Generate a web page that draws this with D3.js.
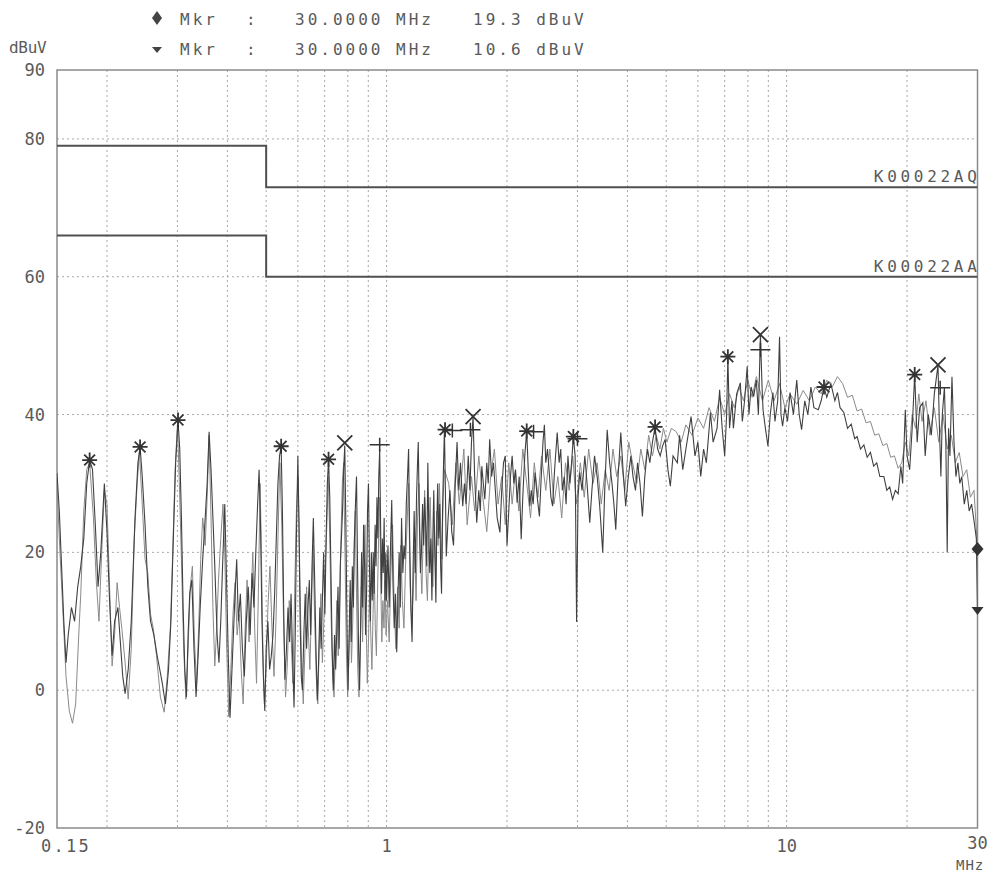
<!DOCTYPE html>
<html>
<head>
<meta charset="UTF-8">
<title>Conducted emission scan</title>
<style>
  * { margin: 0; padding: 0; }
  body { background: #fff; overflow: hidden; }
  text { font-family: "DejaVu Sans Mono", monospace; fill: #5a5a5a; }
</style>
<script src="https://d3js.org/d3.v7.min.js"></script>
</head>
<body>
<script>
// marker readouts above the plot
const readoutFreqs = ["30.0000 MHz", "30.0000 MHz"];
const readoutLevels = ["19.3 dBuV", "10.6 dBuV"];

// axes
const levelTicks = [-20, 0, 20, 40, 60, 80, 90];
const levelGrid = [0, 20, 40, 60, 80];
const freqGrid = [0.2, 0.3, 0.4, 0.5, 0.6, 0.7, 0.8, 0.9, 1, 2, 3, 4, 5, 6, 7, 8, 9, 10, 20];
const freqTicks = [0.15, 1, 10, 30];
const freqTickLabels = ["0.15", "1", "10", "30"];

// limit lines (MHz, dBuV)
const limitQP = [[0.15, 79], [0.5, 79], [0.5, 73], [30, 73]];
const limitAV = [[0.15, 66], [0.5, 66], [0.5, 60], [30, 60]];
const limitNames = ["K00022AQ", "K00022AA"];

// darker trace (MHz, dBuV)
const traceA = [
  [0.150,31.5],[0.152,26],[0.154,18],[0.156,10],[0.158,4],[0.160,8],[0.163,12],[0.166,10],[0.169,15],[0.172,18],
  [0.175,22],[0.178,30],[0.181,33.4],[0.184,32],[0.187,24],[0.190,15],[0.193,20],[0.197,30],[0.200,23],[0.203,13],
  [0.206,5],[0.209,10],[0.213,12],[0.216,7],[0.219,2],[0.222,-0.5],[0.226,3],[0.230,10],[0.235,25],[0.239,33],
  [0.242,35.3],[0.245,31],[0.249,24],[0.253,15],[0.257,10],[0.262,8],[0.267,5],[0.271,3],[0.275,1],[0.280,-2],
  [0.285,3],[0.289,10],[0.293,22],[0.297,33],[0.301,39.2],[0.304,35],[0.307,25],[0.310,12],[0.313,3],[0.316,-1],
  [0.319,8],[0.322,14],[0.326,16],[0.330,6],[0.334,-1],[0.338,5],[0.342,12],[0.347,19],[0.352,25],[0.356,30],
  [0.360,37.5],[0.364,32],[0.368,25],[0.372,18],[0.377,8],[0.381,4],[0.385,10],[0.389,18],[0.394,27],[0.398,16],
  [0.402,5],[0.406,-4],[0.410,2],[0.414,8],[0.418,14],[0.422,19],[0.426,10],[0.431,14],[0.436,6],[0.441,2],
  [0.446,10],[0.451,15],[0.456,8],[0.461,17],[0.466,12],[0.471,20],[0.476,27],[0.480,32],[0.484,24],[0.488,10],
  [0.492,2],[0.496,-3],[0.500,6],
  [0.505,10],[0.510,3],[0.515,5],[0.520,8],[0.525,14],[0.530,22],[0.535,30],[0.540,34],[0.545,35.4],[0.549,26],
  [0.553,12],[0.557,1.5],[0.562,6],[0.567,12],[0.572,7],[0.577,14],[0.582,5],[0.587,-2.5],[0.591,8],[0.595,22],
  [0.600,34],[0.604,24],[0.608,10],[0.612,2],[0.616,0],[0.621,8],[0.626,14],[0.631,6],[0.636,12],[0.641,16],
  [0.646,8],[0.651,18],[0.656,25],[0.661,16],[0.666,6],[0.671,-1.5],[0.676,4],[0.681,12],[0.686,6],[0.691,13],
  [0.696,20],[0.701,11],[0.706,22],[0.711,30],[0.716,33.5],[0.721,28],[0.726,17],[0.731,6],[0.736,0],[0.741,8],
  [0.746,3],[0.751,9],[0.756,15],[0.761,6],[0.766,18],[0.771,22],[0.776,26],[0.781,32],[0.786,35.5],[0.791,24],
  [0.796,10],[0.801,0],[0.806,8],[0.811,16],[0.816,7],[0.821,18],[0.826,12],[0.831,22],[0.836,27],[0.841,31],
  [0.846,18],[0.851,6],[0.856,0],[0.861,9],[0.866,20],[0.871,12],[0.876,24],[0.881,18],[0.886,8],[0.891,14],
  [0.896,26],[0.901,30],[0.906,18],[0.911,10],[0.916,20],[0.921,13],[0.926,20],[0.931,14],[0.936,24],[0.941,18],
  [0.946,28],[0.951,22],[0.956,31],[0.961,35],[0.966,24],[0.971,14],[0.976,22],[0.981,17],[0.986,25],[0.991,13],
  [0.996,20],
  [1.000,13],[1.008,21],[1.015,12],[1.022,20],[1.030,27.6],[1.037,16],[1.045,9],[1.052,14],[1.060,5.5],[1.068,14],
  [1.075,20],[1.082,12],[1.090,25],[1.098,17],[1.105,21],[1.112,19],[1.120,27],[1.128,31],[1.135,35],[1.142,22],
  [1.150,12],[1.158,7],[1.165,18],[1.172,26],[1.180,17],[1.188,28],[1.195,33],[1.200,36],[1.208,24],[1.215,17],
  [1.222,20],[1.230,27],[1.238,21],[1.245,28],[1.252,24],[1.260,18],[1.268,33],[1.275,23],[1.282,17],[1.290,22],
  [1.298,13],[1.305,22],[1.312,29],[1.320,20],[1.328,12.7],[1.335,24],[1.342,30],[1.350,22],[1.358,27],[1.365,18],
  [1.372,14],[1.380,26],[1.388,33],[1.395,37.8],
  [1.402,30],[1.41,19.4],[1.425,25],[1.44,29],[1.455,23],[1.47,21],[1.485,30],[1.50,36],[1.515,29],[1.53,33],
  [1.55,26.7],[1.565,30],[1.58,27],[1.60,34],[1.615,29],[1.63,36],[1.645,39.7],[1.66,31],[1.68,24.3],[1.70,29],
  [1.715,26],[1.73,32.5],[1.745,30],[1.76,27.7],[1.78,33],[1.795,30],[1.81,36.4],[1.83,31],[1.85,33],[1.87,29],
  [1.89,25],[1.92,22.9],[1.94,29],[1.96,33],[1.98,34],[1.99,27],[2.00,21],[2.02,26],[2.04,31],[2.06,34],
  [2.08,30],[2.10,32],[2.12,27.2],[2.145,31],[2.17,21.9],[2.19,28],[2.215,34],[2.24,37.6],[2.26,32],[2.28,26.7],
  [2.30,29],[2.325,27],[2.35,31.6],[2.38,28],[2.41,25.2],[2.44,32],[2.46,36],[2.48,38.5],[2.50,33],[2.525,35],
  [2.55,31.6],[2.575,28],[2.60,26.7],[2.63,32],[2.67,37.4],[2.70,33],[2.725,35],[2.75,29],[2.78,31],[2.81,27],
  [2.84,34],[2.87,30],[2.90,33],[2.93,36.8],[2.96,34],[2.985,9.9],[3.01,28],[3.04,31.6],[3.08,29],[3.13,34],
  [3.17,30],[3.22,24.3],[3.26,29],[3.31,34],[3.36,31],[3.41,26.7],[3.47,20],[3.51,29],[3.56,37.8],[3.61,33],
  [3.66,30],[3.70,27],[3.74,23.3],[3.79,31],[3.85,37.4],[3.90,32],[3.96,26.7],[4.02,31],[4.08,34],[4.13,31],
  [4.19,29],[4.24,33],[4.30,30],[4.36,25.2],[4.42,31],[4.49,35],[4.55,33],[4.62,36],[4.69,38.2],[4.76,35],
  [4.83,34],[4.90,35.5],[4.97,36.4],[5.05,32],[5.12,29.6],
  [5.2,34],[5.33,33],[5.4,37],[5.5,32],[5.6,35],[5.77,39.7],[5.9,34],[6.0,36],[6.1,31],[6.2,35],
  [6.3,33],[6.45,40.3],[6.55,36],[6.7,38],[6.8,43.6],[6.9,38],[7.0,34],[7.08,40],[7.13,48.4],[7.2,38],
  [7.3,42],[7.36,38],[7.5,43],[7.66,44.6],[7.75,39],[7.85,42],[7.97,47],[8.05,40],[8.15,44],[8.27,42.6],
  [8.4,45],[8.5,40],[8.6,51.6],[8.68,44],[8.73,40.7],[8.85,38],[8.98,35.4],[9.1,40],[9.24,43.2],[9.35,39],
  [9.5,42],[9.6,51.3],[9.68,40],[9.77,38.3],[9.9,41],[10.05,39],[10.2,43.2],[10.4,40],[10.6,45],[10.75,40],
  [10.9,37.8],[11.1,42],[11.3,40],[11.5,44],[11.7,41],[12.0,40.7],[12.2,42],[12.4,44],[12.6,42.5],[12.9,44.5],
  [13.2,42],[13.4,43.2],[13.6,41],[13.9,40.3],[14.2,38],[14.5,38.6],[14.8,36.5],[15.0,36.8],[15.3,35],[15.6,35.6],
  [15.9,33.8],[16.2,34.5],[16.5,32.5],[16.8,33],[17.1,31],[17.5,31],[17.8,29],[18.1,29.5],[18.4,27.7],[18.7,29],
  [19.0,28.5],[19.3,32.5],[19.5,30],[19.8,40.7],[20.0,34],[20.3,32],[20.6,38],[20.9,45.8],[21.2,36],[21.5,41],
  [21.9,41.7],[22.2,34],[22.6,40],[23.0,37],[23.4,43],[23.9,47.2],[24.1,38],[24.3,31],[24.5,40],[24.8,44],
  [25.0,36],[25.2,20],[25.4,38],[25.6,34],[25.9,45.5],[26.2,36],[26.5,31],[26.8,33],[27.1,30],[27.4,31],
  [27.8,27],[28.2,29],[28.6,26],[29.0,27],[29.5,24],[29.8,22],[30.0,11.5]
];

// lighter trace (MHz, dBuV)
const traceB = [
  [0.150,30],[0.152,22],[0.155,12],[0.158,2],[0.161,-3],[0.164,-4.8],[0.167,-2],[0.170,8],[0.172,14],[0.175,26],
  [0.178,32],[0.181,33],[0.185,25],[0.188,16],[0.191,10],[0.194,20],[0.197,29],[0.200,27],[0.203,15],[0.206,3.5],
  [0.209,8],[0.212,15.6],[0.215,12],[0.218,8.8],[0.222,4],[0.226,-1.3],[0.230,6],[0.234,22],[0.238,30],[0.241,34.5],
  [0.245,27],[0.249,19],[0.253,17],[0.257,11],[0.261,9],[0.266,5],[0.272,-1],[0.278,-3.2],[0.283,2],[0.288,9],
  [0.292,20],[0.296,32],[0.300,38.5],[0.303,31],[0.307,19],[0.311,6],[0.315,-1.3],[0.319,6],[0.323,15],[0.327,18],
  [0.331,7],[0.335,1],[0.339,9],[0.343,19],[0.347,25],[0.352,21],[0.356,28],[0.360,37],[0.364,25],[0.368,12],
  [0.372,3.5],[0.376,9],[0.380,16],[0.385,22],[0.390,27],[0.394,20],[0.398,7],[0.403,-3.8],[0.408,3],[0.413,11],
  [0.418,15.6],[0.423,8],[0.428,11],[0.433,3],[0.438,-2],[0.443,9],[0.448,16],[0.453,7],[0.458,13],[0.463,20],
  [0.468,9],[0.473,1],[0.478,14],[0.483,30],[0.487,18],[0.491,5],[0.495,-2],[0.500,3],
  [0.505,12],[0.511,18],[0.517,9],[0.523,2],[0.529,10],[0.535,22],[0.541,33],[0.547,24],[0.553,9],[0.559,-1],
  [0.565,4],[0.571,13],[0.577,8],[0.583,1],[0.589,14],[0.595,26],[0.601,31],[0.607,16],[0.613,4],[0.619,-2],
  [0.625,6],[0.631,15],[0.637,9],[0.643,3],[0.649,12],[0.655,21],[0.661,10],[0.667,2],[0.673,-2],[0.679,7],
  [0.685,14],[0.691,4],[0.697,10],[0.703,18],[0.709,24],[0.715,31],[0.721,22],[0.727,10],[0.733,2],[0.739,-1],
  [0.745,6],[0.751,13],[0.757,5],[0.763,12],[0.769,22],[0.775,30],[0.781,33],[0.787,20],[0.793,6],[0.799,-1],
  [0.805,5],[0.811,13],[0.817,4],[0.823,10],[0.829,20],[0.835,26],[0.841,14],[0.847,3],[0.853,-1],[0.859,6],
  [0.865,15],[0.871,7],[0.877,18],[0.883,24],[0.889,10],[0.895,1],[0.901,7],[0.907,15],[0.913,8],[0.919,3],
  [0.925,11],[0.931,18],[0.937,9],[0.943,5],[0.949,14],[0.955,22],[0.961,28],[0.967,16],[0.973,7],[0.979,13],
  [0.985,9],[0.991,16],[0.997,8],
  [1.005,13],[1.015,7],[1.025,17],[1.035,24],[1.045,12],[1.055,6],[1.065,15],[1.075,9],[1.085,21],[1.095,13],
  [1.105,9],[1.115,18],[1.125,24],[1.135,30],[1.145,15],[1.155,10],[1.165,14],[1.175,21],[1.185,13],[1.195,25],
  [1.205,30],[1.215,19],[1.225,14],[1.235,23],[1.245,29],[1.255,17],[1.265,13],[1.275,22],[1.285,28],[1.295,19],
  [1.305,15],[1.315,24],[1.325,18],[1.335,26],[1.345,21],[1.355,30],[1.365,24],[1.375,19],[1.385,28],[1.395,32],
  [1.43,30],[1.46,24],[1.49,33],[1.52,27],[1.56,35],[1.59,24],[1.63,31],[1.66,26],[1.70,34],[1.74,28],
  [1.78,23],[1.82,31],[1.86,35],[1.90,27],[1.94,31],[1.98,24],[2.02,33],[2.06,27],[2.10,32],[2.14,26],
  [2.19,35],[2.24,30],[2.29,25],[2.34,33],[2.39,28],[2.44,34],[2.50,29],[2.56,35],[2.62,27],[2.68,31],
  [2.74,25],[2.80,33],[2.86,29],[2.92,34],[2.98,27],[3.05,33],[3.12,28],[3.20,35],[3.28,30],[3.36,33],
  [3.44,27],[3.52,32],[3.60,29],[3.68,35],[3.76,31],[3.85,34],[3.94,29],[4.03,36],[4.12,33],[4.22,30],
  [4.32,35],[4.42,32],[4.52,37],[4.62,34],[4.72,37],[4.82,35],[4.92,38],[5.02,36],[5.15,38],[5.3,37.5],
  [5.45,36],[5.6,38.5],[5.8,37],[6.0,39.5],[6.2,38],[6.4,41],[6.6,39],[6.8,42.5],[7.0,40],[7.2,43],
  [7.4,41],[7.6,44],[7.8,42],[8.0,45],[8.2,42.5],[8.4,45.5],[8.7,42],[9.0,45],[9.3,42],[9.6,44.5],
  [9.9,41],[10.2,43],[10.6,41.5],[11.0,43.5],[11.4,42],[11.8,44],[12.2,43],[12.6,45],[13.0,44],[13.4,45.5],
  [13.8,44.5],[14.2,42.5],[14.6,42.8],[15.0,40.5],[15.4,40.8],[15.8,38.8],[16.2,39],[16.6,37],[17.0,37.2],[17.4,35.5],
  [17.8,35.8],[18.2,33.8],[18.6,34],[19.0,32.2],[19.4,33],[19.8,36],[20.2,34],[20.6,40],[21.0,38],[21.4,43],
  [21.8,39],[22.3,42],[22.8,37],[23.4,41],[24.0,36],[24.6,40],[25.2,35],[25.8,37],[26.4,33],[27.0,34.5],
  [27.6,31],[28.2,32],[28.8,28],[29.4,29],[30.0,20.5]
];

// peak markers (MHz, dBuV)
const starMarks = [[0.181,33.4],[0.242,35.3],[0.301,39.2],[0.545,35.4],[0.716,33.5],[1.40,37.8],
  [2.24,37.6],[2.93,36.8],[4.69,38.2],[7.13,48.4],[12.4,44],[20.9,45.8]];
const crossMarks = [[0.786,35.9],[1.645,39.7],[8.6,51.6],[23.9,47.2]];
const plusMarks = [[0.961,35.6],[1.46,37.7],[1.62,37.8],[2.33,37.5],[3.0,36.5],[8.6,49.4],[24.2,43.9]];
const diamondMark = [30, 20.5];
const triangleMark = [30, 11.5];

const WIDTH = 990, HEIGHT = 872;
const LEFT = 57, RIGHT = 977.5, TOP = 70, BOTTOM = 828;

const svg = d3.select("body").append("svg")
  .attr("width", WIDTH)
  .attr("height", HEIGHT);

const x = d3.scaleLog().domain([0.15, 30]).range([LEFT, RIGHT]);
const y = d3.scaleLinear().domain([-20, 90]).range([BOTTOM, TOP]);

svg.append("clipPath").attr("id", "plot")
  .append("rect")
  .attr("x", LEFT).attr("y", TOP)
  .attr("width", RIGHT - LEFT).attr("height", BOTTOM - TOP);

// grid
svg.append("g").selectAll("line")
  .data(freqGrid).join("line")
  .attr("x1", d => x(d)).attr("x2", d => x(d))
  .attr("y1", TOP).attr("y2", BOTTOM)
  .attr("stroke", "#a8a8a8").attr("stroke-width", 1)
  .attr("stroke-dasharray", "2,3");

svg.append("g").selectAll("line")
  .data(levelGrid).join("line")
  .attr("x1", LEFT).attr("x2", RIGHT)
  .attr("y1", d => y(d)).attr("y2", d => y(d))
  .attr("stroke", "#a8a8a8").attr("stroke-width", 1)
  .attr("stroke-dasharray", "2,3");

// frame
svg.append("rect")
  .attr("x", LEFT).attr("y", TOP)
  .attr("width", RIGHT - LEFT).attr("height", BOTTOM - TOP)
  .attr("fill", "none").attr("stroke", "#8a8a8a").attr("stroke-width", 1.5);

const line = d3.line().x(d => x(d[0])).y(d => y(d[1]));

// traces
const traces = svg.append("g").attr("clip-path", "url(#plot)");
traces.append("path").attr("d", line(traceB))
  .attr("fill", "none").attr("stroke", "#8a8a8a").attr("stroke-width", 1);
traces.append("path").attr("d", line(traceA))
  .attr("fill", "none").attr("stroke", "#404040").attr("stroke-width", 1.1);

// limits
[limitQP, limitAV].forEach((lim, i) => {
  svg.append("path").attr("d", line(lim))
    .attr("fill", "none").attr("stroke", "#505050").attr("stroke-width", 2);
  svg.append("text")
    .attr("x", RIGHT + 3).attr("y", y(lim[3][1]) - 5)
    .attr("text-anchor", "end")
    .attr("font-size", 16).attr("letter-spacing", 3.7)
    .text(limitNames[i]);
});

// markers
const marks = svg.append("g").attr("stroke", "#333").attr("stroke-width", 1.8).attr("fill", "none");
const r = 7.5;
starMarks.forEach(d => {
  const cx = x(d[0]), cy = y(d[1]);
  marks.append("path").attr("d",
    `M${cx},${cy - r}V${cy + r}M${cx - r},${cy}H${cx + r}` +
    `M${cx - r * 0.72},${cy - r * 0.72}L${cx + r * 0.72},${cy + r * 0.72}` +
    `M${cx - r * 0.72},${cy + r * 0.72}L${cx + r * 0.72},${cy - r * 0.72}`);
});
crossMarks.forEach(d => {
  const cx = x(d[0]), cy = y(d[1]);
  marks.append("path").attr("d",
    `M${cx - r},${cy - r}L${cx + r},${cy + r}M${cx - r},${cy + r}L${cx + r},${cy - r}`);
});
plusMarks.forEach(d => {
  const cx = x(d[0]), cy = y(d[1]);
  marks.append("path").attr("stroke-width", 1.5).attr("d",
    `M${cx - 10},${cy}H${cx + 10}M${cx},${cy - 7}V${cy + 7}`);
});

svg.append("path")
  .attr("d", `M0,-7L6,0L0,7L-6,0Z`)
  .attr("transform", `translate(${x(diamondMark[0])},${y(diamondMark[1])})`)
  .attr("fill", "#333");
svg.append("path")
  .attr("d", `M-6,-4H6L0,4Z`)
  .attr("transform", `translate(${x(triangleMark[0])},${y(triangleMark[1])})`)
  .attr("fill", "#333");

// y tick labels
svg.append("g").selectAll("text")
  .data(levelTicks).join("text")
  .attr("x", 45).attr("y", d => y(d) + 6)
  .attr("text-anchor", "end")
  .attr("font-size", 17).attr("letter-spacing", 0)
  .text(d => d);

svg.append("text").attr("x", 9).attr("y", 53)
  .attr("font-size", 16).attr("letter-spacing", -0.3)
  .text("dBuV");

// x tick labels
svg.append("g").selectAll("text")
  .data(freqTicks).join("text")
  .attr("x", (d, i) => i === 0 ? 41 : x(d))
  .attr("y", (d, i) => i === 3 ? 849 : 852)
  .attr("text-anchor", (d, i) => i === 0 ? "start" : "middle")
  .attr("font-size", 17).attr("letter-spacing", (d, i) => i === 0 ? 2.3 : 0)
  .text((d, i) => freqTickLabels[i]);

svg.append("text").attr("x", 956).attr("y", 870)
  .attr("font-size", 14).attr("letter-spacing", 1)
  .text("MHz");

// readout header
const header = svg.append("g").attr("font-size", 16).attr("letter-spacing", 3);
[0, 1].forEach(i => {
  const by = 25 + i * 30;
  header.append("text").attr("x", 180).attr("y", by).text("Mkr");
  header.append("text").attr("x", 246).attr("y", by).text(":");
  header.append("text").attr("x", 295).attr("y", by).text(readoutFreqs[i]);
  header.append("text").attr("x", 473).attr("y", by).text(readoutLevels[i]);
});
header.append("path").attr("d", "M157,11L162,18L157,25L152,18Z").attr("fill", "#444");
header.append("path").attr("d", "M152,47H162L157,53Z").attr("fill", "#444");
</script>
</body>
</html>
